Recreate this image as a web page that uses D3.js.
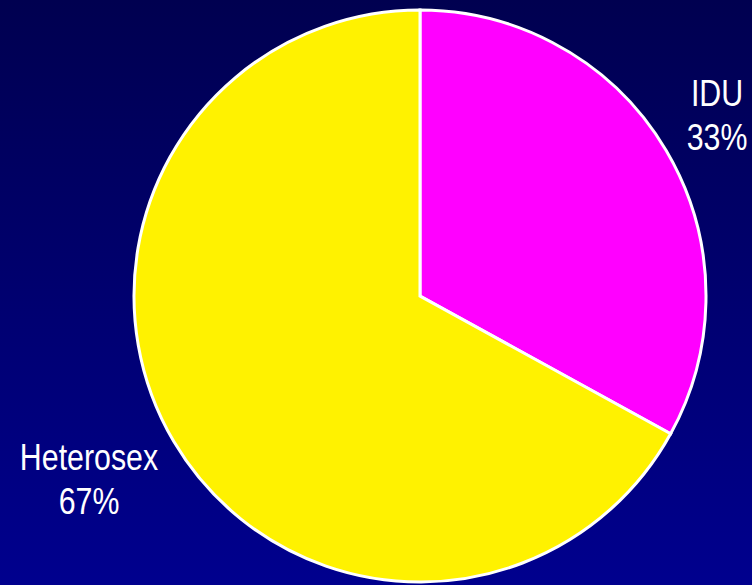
<!DOCTYPE html>
<html>
<head>
<meta charset="utf-8">
<script src="https://d3js.org/d3.v7.min.js"></script>
<style>
  html, body { margin: 0; padding: 0; background: #000050; }
  svg { display: block; }
  text { font-family: "Liberation Sans", Arial, sans-serif; fill: #ffffff; }
</style>
</head>
<body>
<script>
// Transmission category shares (percent)
const categories = ["IDU", "Heterosex"];
const shares = [33, 67];
const sliceColors = ["#ff00ff", "#fff200"];

const W = 752, H = 585;
const cx = 420, cy = 296, radius = 286;

const svg = d3.select("body").append("svg")
  .attr("width", W).attr("height", H);

// Vertical background gradient, dark navy to blue
const defs = svg.append("defs");
const grad = defs.append("linearGradient")
  .attr("id", "bg").attr("x1", 0).attr("y1", 0).attr("x2", 0).attr("y2", 1);
grad.append("stop").attr("offset", "0%").attr("stop-color", "#000050");
grad.append("stop").attr("offset", "100%").attr("stop-color", "#00008e");
svg.append("rect").attr("width", W).attr("height", H).attr("fill", "url(#bg)");

const data = categories.map((c, i) => ({ name: c, value: shares[i], color: sliceColors[i] }));

const pie = d3.pie().sort(null).value(d => d.value);
const arc = d3.arc().innerRadius(0).outerRadius(radius);

const g = svg.append("g").attr("transform", `translate(${cx},${cy})`);
g.selectAll("path")
  .data(pie(data))
  .join("path")
  .attr("d", arc)
  .attr("fill", d => d.data.color)
  .attr("stroke", "#ffffff")
  .attr("stroke-width", 3)
  .attr("stroke-linejoin", "miter");

// Labels: name over percentage, in a condensed face
const labelPos = { "IDU": [717, 106], "Heterosex": [89, 470] };
const labels = svg.append("g");
data.forEach(d => {
  const [x, y] = labelPos[d.name];
  const t = labels.append("text")
    .attr("transform", `translate(${x},${y}) scale(0.82,1)`)
    .attr("text-anchor", "middle")
    .attr("font-size", 37);
  t.append("tspan").attr("x", 0).text(d.name);
  t.append("tspan").attr("x", 0).attr("dy", 44).text(d.value + "%");
});
</script>
</body>
</html>
